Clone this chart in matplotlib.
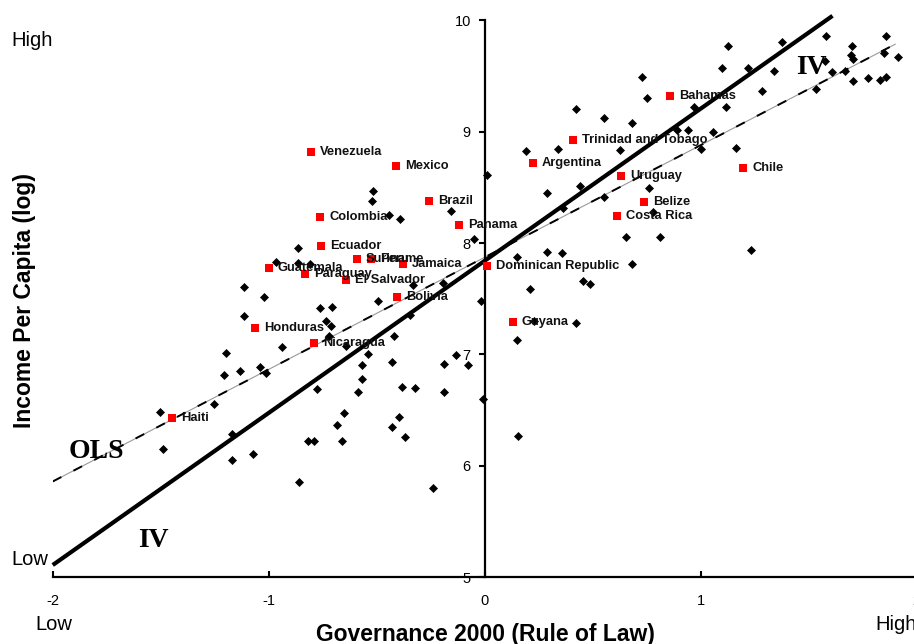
import matplotlib
matplotlib.use("Agg")
import matplotlib.pyplot as plt

plt.rcParams['font.family'] = ['Liberation Sans', 'DejaVu Sans']
plt.rcParams['axes.unicode_minus'] = False

# other countries (black diamonds): governance, log income
gov_x = [-0.516, -0.520, -0.442, -0.392, -0.157, -0.866, -0.966, -0.866, -0.809, -1.113,
         -1.022, -0.331, -0.493, -0.762, -0.708, -1.113, -0.736, -0.713, -0.721, -0.937,
         -1.198, -1.040, -1.133, -1.207, -1.014, -0.778, -1.503, -1.253, -1.171, -1.488,
         -1.171, -1.071, -0.820, -0.789, -0.858, 0.012, -0.050, -0.019, -0.346, -0.419,
         -0.192, -0.644, -0.539, -0.569, -0.431, -0.570, -0.589, -0.383, -0.321, -0.188,
         -0.131, -0.076, -0.190, -0.006, -0.650, -0.684, -0.395, -0.431, -0.369, -0.662,
         -0.238, 0.148, 0.156, 0.228, 0.421, 0.750, 0.421, 0.552, 0.683, 0.192,
         0.337, 0.626, 0.889, 0.943, 0.287, 0.441, 0.552, 0.761, 0.364, 0.777,
         0.654, 0.812, 0.148, 0.287, 0.356, 0.681, 0.210, 0.457, 0.485, 0.727,
         1.124, 1.375, 1.579, 1.858, 1.700, 1.097, 1.217, 1.339, 1.575, 1.608,
         1.697, 1.707, 1.668, 1.849, 1.911, 1.706, 1.776, 1.830, 1.858, 1.284,
         1.534, 0.967, 1.119, 1.056, 1.002, 1.162, 1.234]
inc_y = [8.470, 8.375, 8.252, 8.219, 8.291, 7.953, 7.828, 7.824, 7.810, 7.603,
         7.519, 7.624, 7.480, 7.415, 7.429, 7.341, 7.303, 7.253, 7.166, 7.067,
         7.011, 6.890, 6.849, 6.816, 6.837, 6.693, 6.481, 6.553, 6.286, 6.152,
         6.050, 6.104, 6.225, 6.224, 5.851, 8.611, 8.041, 7.483, 7.355, 7.163,
         7.645, 7.072, 7.002, 6.910, 6.935, 6.777, 6.659, 6.711, 6.695, 6.919,
         6.996, 6.910, 6.659, 6.599, 6.475, 6.367, 6.439, 6.347, 6.262, 6.225,
         5.797, 7.126, 6.271, 7.303, 7.285, 9.303, 9.202, 9.126, 9.078, 8.829,
         8.845, 8.836, 9.011, 9.011, 8.452, 8.508, 8.417, 8.497, 8.311, 8.277,
         8.057, 8.057, 7.878, 7.917, 7.911, 7.810, 7.588, 7.660, 7.631, 9.488,
         9.772, 9.808, 9.859, 9.856, 9.767, 9.569, 9.569, 9.545, 9.632, 9.536,
         9.684, 9.648, 9.549, 9.706, 9.671, 9.458, 9.485, 9.464, 9.494, 9.368,
         9.386, 9.222, 9.222, 8.993, 8.843, 8.858, 7.938]

# latin america / caribbean (red squares)
names = ['Venezuela', 'Mexico', 'Brazil', 'Colombia', 'Panama', 'Ecuador', 'Suriname',
         'Peru', 'Jamaica', 'Guatemala', 'Paraguay', 'El Salvador', 'Bolivia', 'Honduras',
         'Nicaragua', 'Haiti', 'Dominican Republic', 'Guyana', 'Argentina',
         'Trinidad and Tobago', 'Uruguay', 'Belize', 'Costa Rica', 'Bahamas', 'Chile']
red_x = [-0.806, -0.409, -0.259, -0.762, -0.120, -0.756, -0.591, -0.528, -0.377, -1.000,
         -0.833, -0.644, -0.407, -1.062, -0.792, -1.449, 0.009, 0.130, 0.222, 0.409,
         0.630, 0.738, 0.611, 0.856, 1.196]
red_y = [8.818, 8.692, 8.375, 8.234, 8.162, 7.974, 7.855, 7.857, 7.812, 7.779,
         7.723, 7.669, 7.519, 7.241, 7.100, 6.433, 7.794, 7.295, 8.716, 8.925,
         8.605, 8.372, 8.246, 9.323, 8.677]

# fitted lines (end points)
ols_x = [-2.0, 1.90]
ols_y = [5.86, 9.785]
iv_x = [-2.0, 1.61]
iv_y = [5.11, 10.04]

fig = plt.figure(figsize=(9.14, 6.44), dpi=100)
ax = fig.add_axes([0.0577, 0.1036, 0.9453, 0.8649])
ax.set_xlim(-2, 2)
ax.set_ylim(5, 10)

# OLS: thin grey line with black dashes on top
ax.plot(ols_x, ols_y, color='#999999', lw=0.8, zorder=2)
ax.plot(ols_x, ols_y, color='black', lw=1.4, dashes=(5, 7), zorder=2)
ax.plot(iv_x, iv_y, color='black', lw=3.0, zorder=2, clip_on=False, solid_capstyle='butt')

ax.plot(gov_x, inc_y, 'D', color='black', ms=4, mew=0.5, zorder=3, clip_on=False)
ax.plot(red_x, red_y, 's', color='#ff0000', ms=5.5, mew=0, zorder=4)
for n, x, y in zip(names, red_x, red_y):
    ax.annotate(n, (x, y), xytext=(6.5, 0), textcoords='offset points',
                va='center', ha='left', fontsize=9.3, fontweight='bold', color='#111111', zorder=5)

ax.text(-1.928, 6.068, 'OLS', family='Liberation Serif', fontweight='bold', fontsize=20)
ax.text(-1.604, 5.269, 'IV', family='Liberation Serif', fontweight='bold', fontsize=20)
ax.text(1.440, 9.518, 'IV', family='Liberation Serif', fontweight='bold', fontsize=20)

# axes crossing at x=0 / y=5
ax.spines['top'].set_visible(False)
ax.spines['right'].set_visible(False)
ax.spines['left'].set_position(('data', 0))
ax.spines['left'].set_linewidth(1.6)
ax.spines['bottom'].set_linewidth(1.6)
ax.set_xticks([-2, -1, 0, 1, 2])
ax.set_xticklabels(['-2', '-1', '0', '1', '2'])
ax.set_yticks([5, 6, 7, 8, 9, 10])
ax.tick_params(axis='x', direction='in', length=4, width=1.5, pad=12, labelsize=10.5)
ax.tick_params(axis='y', direction='out', length=4, width=1.5, pad=6, labelsize=10.5)

fig.text(0.027, 0.534, 'Income Per Capita (log)', rotation=90, ha='center', va='center',
         fontsize=16.5, fontweight='bold')
fig.text(0.531, 0.005, 'Governance 2000 (Rule of Law)', ha='center', va='baseline',
         fontsize=16.5, fontweight='bold')
fig.text(0.0128, 0.9286, 'High', fontsize=14.5, va='baseline')
fig.text(0.0128, 0.1227, 'Low', fontsize=14.5, va='baseline')
fig.text(0.039, 0.0217, 'Low', fontsize=14.5, va='baseline')
fig.text(0.958, 0.0217, 'High', fontsize=14.5, va='baseline')

fig.savefig('out.png', dpi=100)
